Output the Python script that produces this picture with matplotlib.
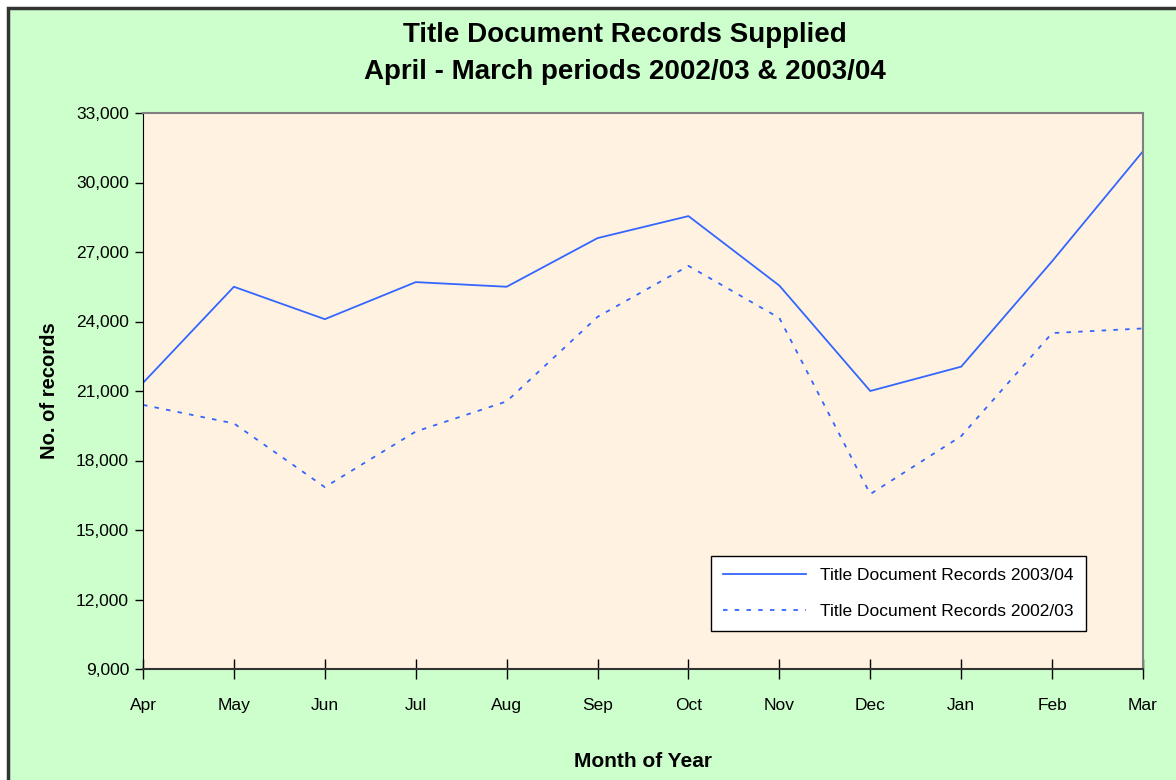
import numpy as np
import matplotlib.pyplot as plt
from matplotlib.patches import Rectangle
from matplotlib.ticker import FuncFormatter

months = ['Apr', 'May', 'Jun', 'Jul', 'Aug', 'Sep', 'Oct', 'Nov', 'Dec', 'Jan', 'Feb', 'Mar']
records_2003_04 = [21350, 25500, 24100, 25700, 25500, 27600, 28550, 25550, 21000, 22050, 26600, 31350]
records_2002_03 = [20400, 19600, 16850, 19250, 20550, 24200, 26400, 24150, 16550, 19050, 23500, 23700]

plt.rcParams['font.family'] = ['Liberation Sans', 'DejaVu Sans']

green = '#CCFFCC'
blue = '#3366FF'

fig = plt.figure(figsize=(11.76, 7.8), dpi=100, facecolor='white')

# background frame of the chart area
fig.patches.append(Rectangle((8/1176, -0.05), 1.0, 1 - 8/780 + 0.05,
                             transform=fig.transFigure, facecolor=green,
                             edgecolor='#333333', linewidth=2.5, zorder=-10))

ax = fig.add_axes([143/1176, 1 - 669/780, 1000/1176, 556/780])
ax.set_facecolor('#FFF2E0')

x = np.arange(len(months))
ax.plot(x, records_2003_04, color=blue, lw=1.3, label='Title Document Records 2003/04')
ax.plot(x, records_2002_03, color=blue, lw=1.3, ls=(0, (2.5, 4)), label='Title Document Records 2002/03')

ax.set_xlim(0, 11)
ax.set_ylim(9000, 33000)
ax.set_yticks(np.arange(9000, 33001, 3000))
ax.yaxis.set_major_formatter(FuncFormatter(lambda v, p: f'{int(v):,}'))
ax.set_xticks(x)
ax.set_xticklabels(months)

ax.tick_params(axis='y', direction='out', length=6, width=1, labelsize=12.5, pad=4)
ax.tick_params(axis='x', direction='inout', length=14, width=1, labelsize=12.5, pad=14)

for s in ['top', 'right']:
    ax.spines[s].set_color('#808080')
    ax.spines[s].set_linewidth(1.5)
ax.spines['left'].set_color('black')
ax.spines['bottom'].set_color('#333333')
ax.spines['bottom'].set_linewidth(1.5)

ax.set_xlabel('Month of Year', fontsize=15, fontweight='bold', labelpad=28)
ax.set_ylabel('No. of records', fontsize=14.5, fontweight='bold', labelpad=12)

fig.text(625/1176, 1 - 35/780, 'Title Document Records Supplied',
         fontsize=20, fontweight='bold', ha='center', va='center')
fig.text(625/1176, 1 - 72/780, 'April - March periods 2002/03 & 2003/04',
         fontsize=20, fontweight='bold', ha='center', va='center')

leg = ax.legend(loc='upper left', bbox_to_anchor=((711 - 143)/1000, (669 - 556)/556),
                fontsize=12.5, frameon=True, fancybox=False, framealpha=1,
                edgecolor='black', borderpad=0.7, handlelength=4.8, labelspacing=1.2,
                borderaxespad=0)
leg.get_frame().set_linewidth(1)

plt.savefig('out.png', dpi=100, facecolor=fig.get_facecolor())
